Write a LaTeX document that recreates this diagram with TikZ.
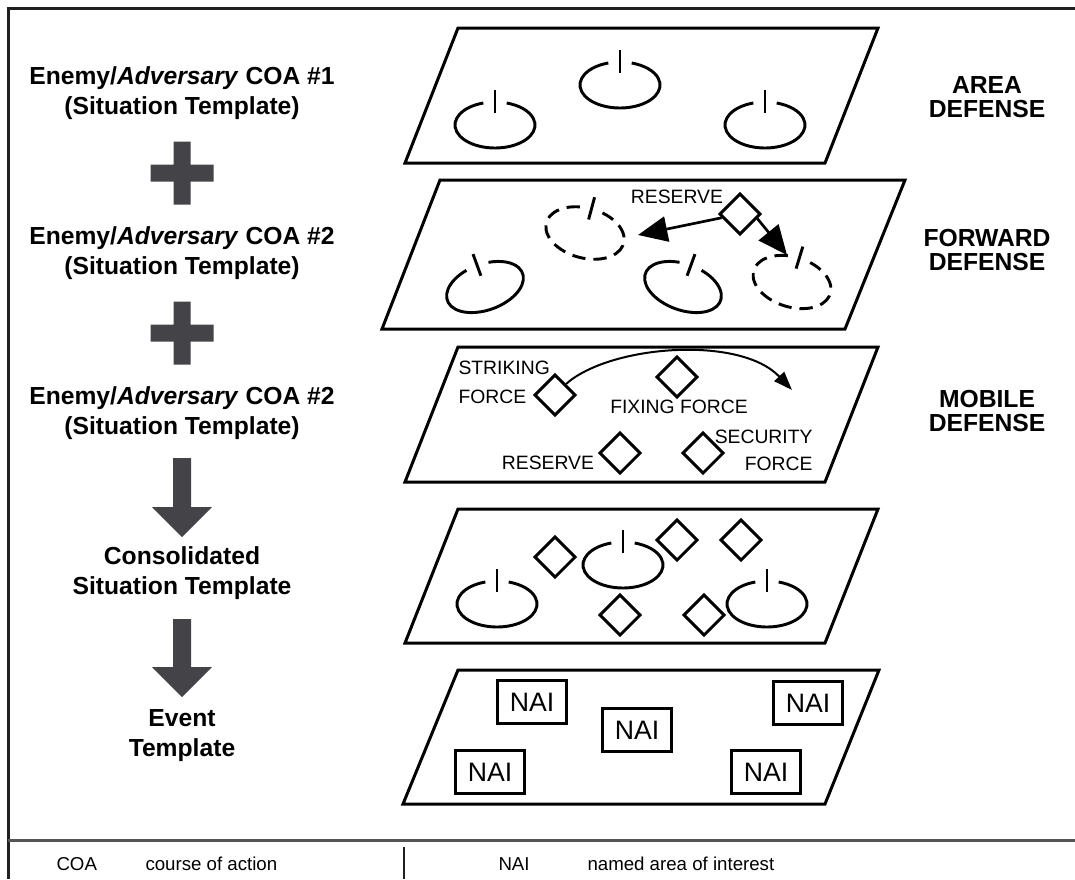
\documentclass[tikz,border=0pt]{standalone}
\usepackage{fontspec}
\setmainfont{Liberation Sans}
\usetikzlibrary{shapes.geometric,arrows.meta}

\definecolor{blockgray}{RGB}{68,68,72}
\definecolor{framedark}{RGB}{32,32,32}
\definecolor{rulegray}{RGB}{85,85,85}

\tikzset{every picture/.style={line width=0.75pt}}
\tikzset{
  panel/.style={draw, line width=2.25pt, line join=miter},
  post/.style={draw, diamond, line width=2.2pt, minimum size=31pt, inner sep=0pt, fill=white},
  nai/.style={draw, rectangle, line width=2.2pt, minimum width=52pt, minimum height=32pt, inner sep=0pt, font=\fontsize{20}{24}\selectfont},
  lbl/.style={inner sep=0.75pt, font=\fontsize{14.5}{17}\selectfont},
  legend/.style={inner sep=0.75pt, anchor=base west, font=\fontsize{14}{17}\selectfont},
  head/.style={inner sep=0.75pt, align=center, font=\bfseries\fontsize{18.5}{22.5}\selectfont},
  defname/.style={inner sep=0.75pt, align=center, font=\bfseries\fontsize{18.5}{18}\selectfont},
  bigarrow/.style={line width=2pt, -{Triangle[length=22pt,width=19pt]}},
  thinarrow/.style={line width=1.5pt, -{Triangle[length=14pt,width=10pt]}},
  unit/.pic={
    \draw[line width=2.2pt] (107:40 and 23) arc[start angle=107, end angle=433, x radius=40, y radius=23];
    \draw[line width=2.2pt] (0,35) -- (0,12);
  },
  dunit/.pic={
    \draw[line width=2.2pt, dash pattern=on 10pt off 6pt] (107:40 and 25) arc[start angle=107, end angle=433, x radius=40, y radius=25];
    \draw[line width=2.2pt] (0,37) -- (0,14);
  }
}

\begin{document}
\begin{tikzpicture}[x=0.75pt,y=0.75pt,yscale=-1,xscale=1]
\fill[white] (0,0) rectangle (1075,879);
\useasboundingbox (0,0) rectangle (1075,879);

%Frame and legend rules
\draw[framedark, line width=2.25pt] (1075,8) -- (8,8) -- (8,879) ;
\draw[rulegray, line width=2.25pt] (8,840) -- (1075,840) ;
\draw[framedark, line width=1.5pt] (404,847) -- (404,879) ;

%Shape: Parallelogram [area defense]
\draw[panel] (458,28) -- (878,28) -- (825,163) -- (405,163) -- cycle ;
\pic at (495,125) {unit};
\pic at (620,85) {unit};
\pic at (765,125) {unit};

%Shape: Parallelogram [forward defense]
\draw[panel] (440,180) -- (905,180) -- (845,329) -- (382,329) -- cycle ;
\pic[rotate=20] at (485,287) {unit};
\pic[rotate=-20] at (683,287) {unit};
\pic[rotate=-15] at (585,233) {dunit};
\pic[rotate=-17] at (792,282) {dunit};
\draw (740,214) node [post] (fres) {};
\draw (677,197) node [lbl] (fresl) {RESERVE};
\coordinate (fleft) at (638,235);
\coordinate (fright) at (787,255);
\draw[bigarrow] (fres) -- (fleft);
\draw[bigarrow] (fres.-15) -- (fright);

%Shape: Parallelogram [mobile defense]
\draw[panel] (458,347) -- (878,347) -- (825,482) -- (405,482) -- cycle ;
\draw (555,395) node [post] (strike) {};
\draw (677,377) node [post] (fix) {};
\draw (620,453) node [post] (mres) {};
\draw (703,453) node [post] (secu) {};
\coordinate (sweep) at (792,390);
\draw[thinarrow] (strike.north east) .. controls (610,345) and (740,335) .. (sweep);
% Text Node
\draw (457,382) node [lbl, anchor=west, align=left, font=\fontsize{14.5}{21.75}\selectfont] (strikel) {STRIKING\\FORCE};
% Text Node
\draw (679,407) node [lbl] (fixl) {FIXING FORCE};
% Text Node
\draw (548,463) node [lbl] (mresl) {RESERVE};
% Text Node
\draw (814,450) node [lbl, anchor=east, align=right, font=\fontsize{14.5}{20.25}\selectfont] (secul) {SECURITY\\FORCE};

%Shape: Parallelogram [consolidated]
\draw[panel] (458,509) -- (878,509) -- (825,643) -- (405,643) -- cycle ;
\pic at (497,604) {unit};
\pic at (623,565) {unit};
\pic at (767,604) {unit};
\draw (555,557) node [post] (ca) {};
\draw (677,540) node [post] (cb) {};
\draw (741,540) node [post] (cc) {};
\draw (620,615) node [post] (cd) {};
\draw (704,615) node [post] (ce) {};

%Shape: Parallelogram [event template]
\draw[panel] (458,670) -- (879,670) -- (825,804) -- (403,804) -- cycle ;
\draw (532,702) node [nai] (naia) {NAI};
\draw (637,730) node [nai] (naib) {NAI};
\draw (808,703) node [nai] (naic) {NAI};
\draw (490,772) node [nai] (naid) {NAI};
\draw (766,772) node [nai] (naie) {NAI};

%Left column
\draw (182,93) node [head] (coaa) {Enemy/\textit{Adversary} COA \#1\\(Situation Template)};
\fill[blockgray] (173.5,141.5) rectangle (190.5,204.5) (150.5,164.5) rectangle (213.5,181.5);
\draw (182,253) node [head] (coab) {Enemy/\textit{Adversary} COA \#2\\(Situation Template)};
\fill[blockgray] (173.5,301.5) rectangle (190.5,364.5) (150.5,324.5) rectangle (213.5,341.5);
\draw (182,413) node [head] (coac) {Enemy/\textit{Adversary} COA \#2\\(Situation Template)};
\fill[blockgray] (173,458) -- (191,458) -- (191,507) -- (212,507) -- (182,537) -- (152,507) -- (173,507) -- cycle;
\draw (182,573) node [head] (cons) {Consolidated\\Situation Template};
\fill[blockgray] (173,619) -- (191,619) -- (191,667) -- (212,667) -- (182,697) -- (152,667) -- (173,667) -- cycle;
\draw (182,736) node [head] (evt) {Event\\Template};

%Right column
\draw (987,97) node [defname] (area) {AREA\\DEFENSE};
\draw (987,250) node [defname] (fwd) {FORWARD\\DEFENSE};
\draw (987,411) node [defname] (mob) {MOBILE\\DEFENSE};

%Legend
\draw (55,870) node [legend] (coakey) {COA};
\draw (144,870) node [legend] (coatxt) {course of action};
\draw (497,870) node [legend] (naikey) {NAI};
\draw (586,870) node [legend] (naitxt) {named area of interest};

\end{tikzpicture}
\end{document}
